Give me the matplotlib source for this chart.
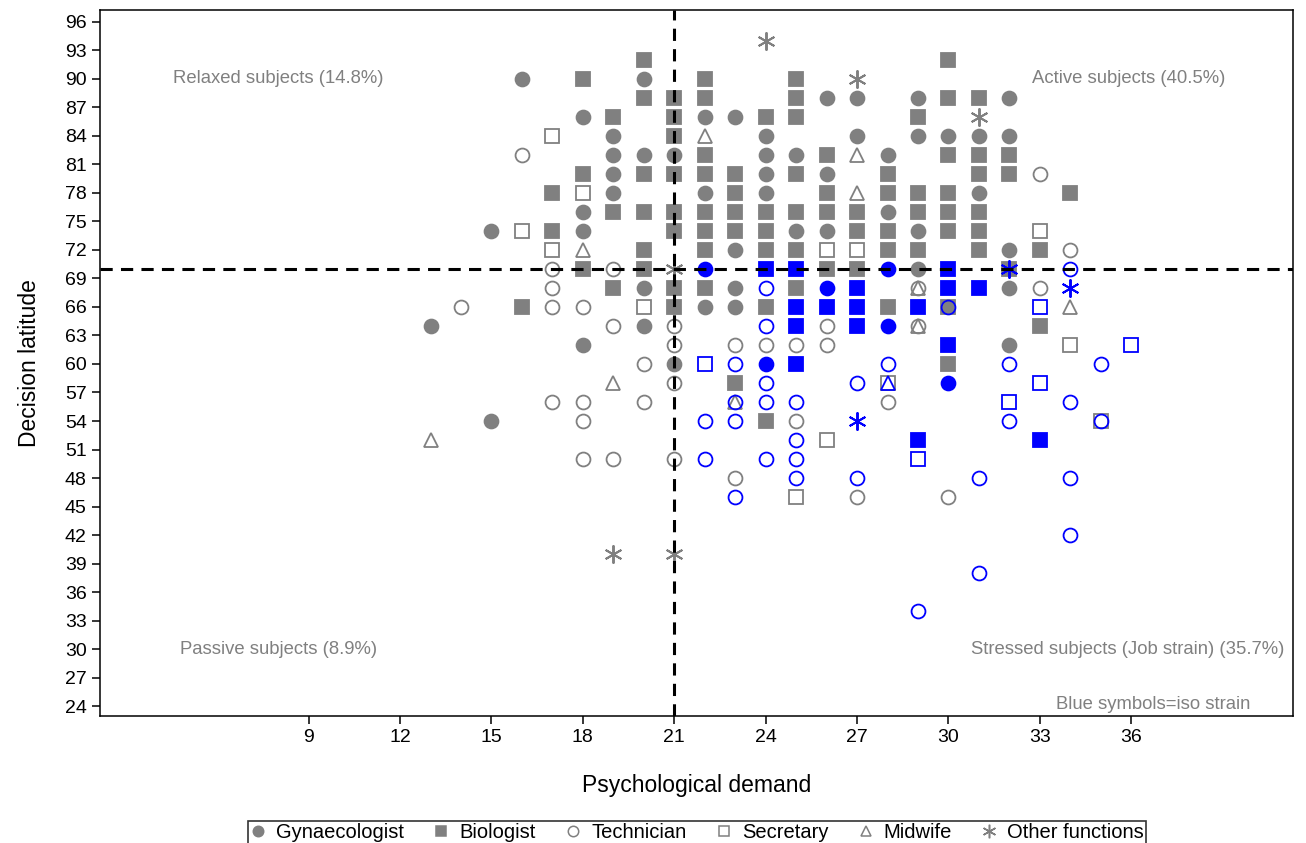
import matplotlib
matplotlib.use('Agg')
import matplotlib.pyplot as plt
from matplotlib.lines import Line2D

plt.rcParams['font.family'] = ['Liberation Sans', 'DejaVu Sans']

GREY = '#808080'
BLUE = '#0000ff'

# points are (psychological demand, decision latitude)
# grey = no iso strain, blue = iso strain
gyn = [(13, 64), (15, 74), (15, 54), (16, 90), (18, 86), (18, 76), (18, 74), (18, 62),
       (19, 84), (19, 82), (19, 80), (19, 78), (20, 90), (20, 82), (20, 68), (20, 64),
       (21, 82), (21, 60), (22, 86), (22, 78), (22, 66), (23, 86), (23, 72), (23, 68),
       (23, 66), (24, 84), (24, 82), (24, 80), (24, 78), (25, 82), (25, 74), (26, 88),
       (26, 80), (26, 74), (27, 88), (27, 84), (28, 82), (28, 76), (29, 88), (29, 84),
       (29, 74), (29, 70), (30, 84), (31, 84), (31, 78), (32, 88), (32, 84), (32, 72),
       (32, 68), (32, 62)]
gyn_iso = [(22, 70), (28, 70), (26, 68), (28, 64), (24, 60), (30, 58)]

bio = [(16, 66), (17, 78), (17, 74), (18, 90), (18, 80), (18, 70), (19, 86), (19, 76),
       (19, 68), (20, 92), (20, 88), (20, 80), (20, 76), (20, 72), (20, 70), (21, 88),
       (21, 86), (21, 84), (21, 80), (21, 76), (21, 74), (21, 68), (21, 66), (22, 90),
       (22, 88), (22, 82), (22, 80), (22, 76), (22, 74), (22, 72), (22, 68), (23, 80),
       (23, 78), (23, 76), (23, 74), (23, 58), (24, 86), (24, 76), (24, 74), (24, 72),
       (24, 66), (24, 54), (25, 90), (25, 88), (25, 86), (25, 80), (25, 76), (25, 72),
       (25, 68), (26, 82), (26, 78), (26, 76), (26, 70), (27, 76), (27, 74), (27, 70),
       (28, 80), (28, 78), (28, 74), (28, 72), (28, 66), (29, 86), (29, 78), (29, 76),
       (29, 72), (30, 92), (30, 88), (30, 82), (30, 78), (30, 76), (30, 74), (30, 66),
       (30, 60), (31, 88), (31, 82), (31, 80), (31, 76), (31, 74), (31, 72), (32, 82),
       (32, 80), (32, 70), (33, 72), (33, 64), (34, 78)]
bio_iso = [(24, 70), (25, 70), (30, 70), (27, 68), (25, 66), (26, 66), (27, 66), (25, 64),
           (27, 64), (25, 60), (30, 68), (31, 68), (29, 66), (30, 62), (29, 52), (33, 52)]

tech = [(14, 66), (16, 82), (17, 70), (17, 68), (17, 66), (17, 56), (18, 66), (18, 56),
        (18, 54), (18, 50), (19, 70), (19, 64), (19, 50), (20, 60), (20, 56), (21, 64),
        (21, 62), (21, 58), (21, 50), (23, 62), (23, 48), (24, 62), (25, 62), (25, 54),
        (26, 64), (26, 62), (27, 46), (28, 56), (29, 68), (29, 64), (30, 46), (33, 80),
        (33, 68), (34, 72)]
tech_iso = [(24, 68), (24, 64), (24, 58), (24, 56), (23, 60), (23, 56), (25, 56), (22, 54),
            (23, 54), (25, 52), (22, 50), (24, 50), (25, 50), (23, 46), (25, 48), (27, 48),
            (27, 58), (28, 60), (30, 66), (32, 60), (35, 60), (34, 56), (32, 54), (35, 54),
            (31, 48), (34, 48), (34, 42), (31, 38), (29, 34), (34, 70)]

sec = [(16, 74), (17, 84), (17, 72), (18, 78), (20, 66), (26, 72), (27, 72), (26, 52),
       (25, 46), (28, 58), (33, 74), (34, 62), (35, 54)]
sec_iso = [(22, 60), (33, 66), (33, 58), (32, 56), (29, 50), (36, 62)]

mid = [(13, 52), (18, 72), (19, 58), (22, 84), (27, 82), (27, 78), (29, 68), (29, 64),
       (23, 56), (34, 66)]
mid_iso = [(28, 58)]

oth = [(24, 94), (27, 90), (31, 86), (21, 70), (19, 40), (21, 40)]
oth_iso = [(27, 54), (32, 70), (34, 68)]

labels = ['Gynaecologist', 'Biologist', 'Technician', 'Secretary', 'Midwife', 'Other functions']
xticks = list(range(9, 37, 3))
yticks = list(range(24, 97, 3))

ASTER = (6, 2, 0)
styles = [('o', True, 10), ('s', True, 9.5), ('o', False, 10),
          ('s', False, 9.5), ('^', False, 10), (ASTER, False, 13)]
groups = [(gyn, gyn_iso), (bio, bio_iso), (tech, tech_iso),
          (sec, sec_iso), (mid, mid_iso), (oth, oth_iso)]

fig = plt.figure(figsize=(13.06, 8.43), dpi=100)
ax = fig.add_axes([100 / 1306, 127 / 843, 1193 / 1306, 706 / 843])


def draw(pts, style, color, z):
    marker, filled, ms = style
    xs = [p[0] for p in pts]
    ys = [p[1] for p in pts]
    ax.plot(xs, ys, ls='none', marker=marker, ms=ms,
            mfc=color if filled else 'none', mec=color,
            mew=1.4 if marker == ASTER else 1.3, zorder=z)


for (pts, _), st in zip(groups, styles):
    draw(pts, st, GREY, 3)
for (_, pts), st in zip(groups, styles):
    draw(pts, st, BLUE, 4)

ax.axvline(21, color='black', lw=2.2, ls=(0, (4, 2.7)), zorder=5)
ax.axhline(70, color='black', lw=2.2, ls=(0, (4, 2.7)), zorder=5)

ax.set_xlim(2.15, 41.31)
ax.set_ylim(22.95, 97.26)
ax.set_xticks(xticks)
ax.set_yticks(yticks)
ax.tick_params(labelsize=14, length=6, width=1.1)
for s in ax.spines.values():
    s.set_linewidth(1.1)

ax.set_xlabel('Psychological demand', fontsize=16.5, labelpad=20)
ax.set_ylabel('Decision latitude', fontsize=16.5, labelpad=17)

tc = dict(color=GREY, fontsize=13.3, va='center', ha='left')
ax.text(4.54, 90, 'Relaxed subjects (14.8%)', **tc)
ax.text(32.74, 90, 'Active subjects (40.5%)', **tc)
ax.text(4.77, 30, 'Passive subjects (8.9%)', **tc)
ax.text(30.74, 30, 'Stressed subjects (Job strain) (35.7%)', **tc)
ax.text(39.92, 24.2, 'Blue symbols=iso strain', color=GREY, fontsize=13.3, va='center', ha='right')

handles = []
for lab, (marker, filled, ms) in zip(labels, styles):
    handles.append(Line2D([], [], ls='none', marker=marker, ms=ms * 0.75,
                          mfc=GREY if filled else 'none', mec=GREY, mew=1.1, label=lab))
leg = fig.legend(handles=handles, loc='upper center', bbox_to_anchor=(697 / 1306, 1 - 821 / 843),
                 ncol=6, frameon=True, fancybox=False, edgecolor='black', fontsize=14.5,
                 handlelength=0.8, handletextpad=0.5, columnspacing=1.45, borderpad=0.1,
                 borderaxespad=0)
leg.get_frame().set_linewidth(1.2)

fig.savefig('out.png', dpi=100)
